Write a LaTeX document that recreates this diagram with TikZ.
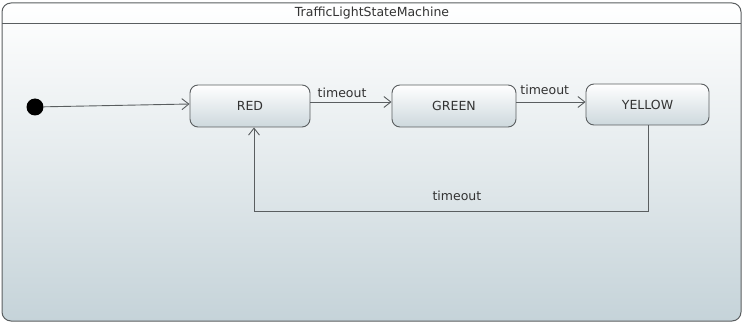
\documentclass[tikz,border=0pt]{standalone}
\usepackage{fontspec}
\setmainfont{DejaVu Sans}
\usetikzlibrary{arrows.meta}
\definecolor{edgegray}{HTML}{5A5E60}
\definecolor{boxbottom}{HTML}{CDD8DD}
\definecolor{bgtop}{HTML}{F9FAFA}
\definecolor{bgbottom}{HTML}{C5D3D9}
\tikzset{
  statebox/.style={draw=edgegray, line width=0.9pt, rounded corners=8pt,
    top color=white, bottom color=boxbottom, font=\fontsize{12.5}{14}\selectfont, text=black!80},
  trans/.style={draw=edgegray, line width=0.9pt, -{Straight Barb[length=7pt,width=11pt,line width=0.9pt]}},
  lbl/.style={font=\fontsize{12.5}{14}\selectfont, text=black!80, inner sep=0pt, anchor=center}
}
\begin{document}
\begin{tikzpicture}[x=1pt,y=-1pt]
\useasboundingbox (0,0) rectangle (744,323);
% frame
\path[draw=edgegray, line width=1pt, rounded corners=9pt, top color=white, bottom color=bgbottom,
  middle color=bgtop!60!bgbottom] (2,3) rectangle (741,321);
\coordinate (hl) at (2,23);
\coordinate (hr) at (741,23);
\draw[edgegray, line width=0.9pt] (hl) -- (hr);
\node[lbl] (title) at (372,13) {TrafficLightStateMachine};
% initial
\node[circle, fill=black, inner sep=0pt, minimum size=17pt] (init) at (35,107) {};
% states
\node[statebox, minimum width=120pt, minimum height=42pt] (red) at (250,106) {RED};
\node[statebox, minimum width=124pt, minimum height=42pt] (green) at (454,106) {GREEN};
\node[statebox, minimum width=123pt, minimum height=41pt] (yellow) at (647.5,104.5) {YELLOW};
% transitions
\draw[trans] (init) -- ([yshift=2pt]red.west);
\draw[trans] ([yshift=4pt]red.east) -- node[lbl, pos=0.39, yshift=9pt] (t1) {timeout} ([yshift=4pt]green.west);
\draw[trans] ([yshift=4pt]green.east) -- node[lbl, pos=0.41, yshift=12pt] (t2) {timeout} ([yshift=2.5pt]yellow.west);
\coordinate (lowR) at (648,211);
\coordinate (lowL) at (254,211);
\draw[trans] (yellow.south -| lowR) -- (lowR) -- node[lbl, pos=0.485, yshift=15pt] (t3) {timeout} (lowL) -- (red.south -| lowL);
\end{tikzpicture}
\end{document}
